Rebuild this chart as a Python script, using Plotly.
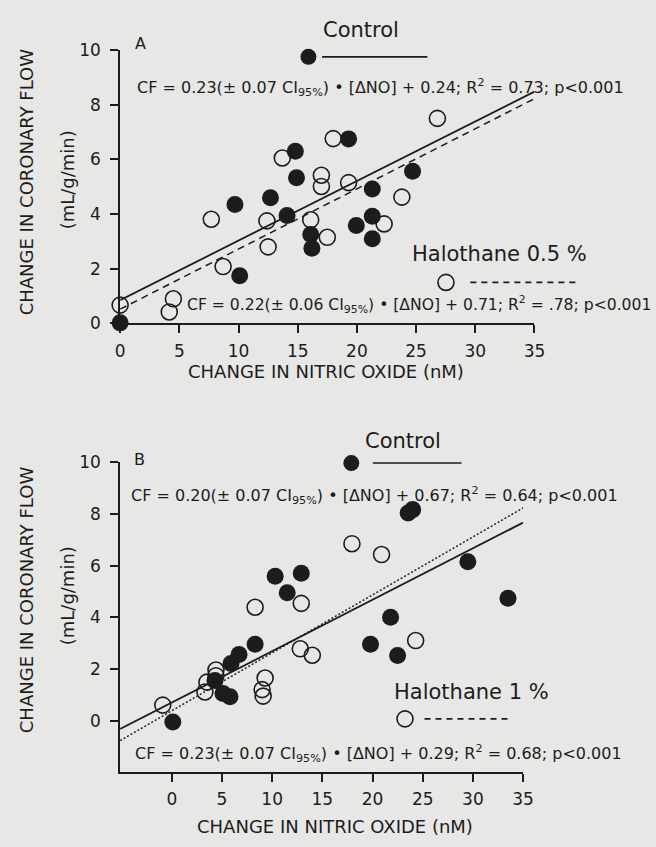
import numpy as np
import plotly.graph_objects as go

W, H = 656, 847
BG = "#e7e7e5"
INK = "#1c1c1c"
FONT = "DejaVu Sans"

# ---------------- data ----------------
# Panel A: Control (filled) vs Halothane 0.5 % (open)
a_ctrl_no = [19.3, 14.8, 14.9, 12.7, 9.7, 14.1, 21.3, 21.3, 19.95, 21.3, 16.1, 16.2, 10.1, 0.0, 24.7]
a_ctrl_cf = [6.75, 6.30, 5.33, 4.60, 4.35, 3.95, 4.92, 3.92, 3.58, 3.10, 3.25, 2.75, 1.74, 0.02, 5.57]
a_halo_no = [18.0, 13.7, 17.0, 17.0, 19.3, 7.7, 12.4, 16.1, 17.5, 12.5, 8.7, 22.3, 4.5, 4.15, 0.0, 26.8, 23.8]
a_halo_cf = [6.76, 6.05, 5.42, 5.01, 5.15, 3.81, 3.75, 3.79, 3.15, 2.80, 2.08, 3.64, 0.90, 0.42, 0.67, 7.50, 4.62]

# Panel B: Control (filled) vs Halothane 1 % (open)
b_ctrl_no = [10.3, 12.9, 11.5, 8.3, 6.7, 5.9, 4.3, 5.1, 5.8, 0.1, 21.8, 19.8, 22.5, 23.55, 24.0, 29.5, 33.5]
b_ctrl_cf = [5.59, 5.71, 4.95, 2.96, 2.56, 2.21, 1.55, 1.05, 0.92, -0.05, 4.00, 2.96, 2.52, 8.04, 8.17, 6.15, 4.74]
b_halo_no = [17.95, 20.9, 8.3, 12.9, 4.4, 4.4, 3.3, 3.5, -0.9, 12.8, 14.0, 9.3, 9.0, 9.1, 24.3]
b_halo_cf = [6.85, 6.43, 4.39, 4.54, 1.96, 1.74, 1.11, 1.49, 0.60, 2.78, 2.53, 1.65, 1.20, 0.95, 3.10]

# regression lines as drawn: (slope, intercept)
a_ctrl_fit = (0.218, 0.85)
a_halo_fit = (0.220, 0.52)
b_ctrl_fit = (0.199, 0.70)
b_halo_fit = (0.2245, 0.38)

a_xrange = [0, 35]
a_yrange = [0, 10]
b_xrange = [-5.15, 35]
b_yrange = [-2, 10]
x_ticks = [0, 5, 10, 15, 20, 25, 30, 35]
y_ticks = [0, 2, 4, 6, 8, 10]

eq_a_ctrl = "CF = 0.23(\u00b1 0.07 CI<sub>95%</sub>) \u2022 [\u0394NO] + 0.24; R<sup>2</sup> = 0.73; p<0.001"
eq_a_halo = "CF = 0.22(\u00b1 0.06 CI<sub>95%</sub>) \u2022 [\u0394NO] + 0.71; R<sup>2</sup> = .78; p<0.001"
eq_b_ctrl = "CF = 0.20(\u00b1 0.07 CI<sub>95%</sub>) \u2022 [\u0394NO] + 0.67; R<sup>2</sup> = 0.64; p<0.001"
eq_b_halo = "CF = 0.23(\u00b1 0.07 CI<sub>95%</sub>) \u2022 [\u0394NO] + 0.29; R<sup>2</sup> = 0.68; p<0.001"

# ---------------- figure ----------------
def px(x):
    return x / W

def py(y):
    return 1 - y / H

fig = go.Figure()

def add_panel(xa, ya, cx, cy, hx, hy, cfit, hfit, xr, hdash):
    fig.add_trace(go.Scatter(
        x=cx, y=cy, mode="markers", xaxis=xa, yaxis=ya, cliponaxis=False,
        marker=dict(symbol="circle", size=17, color=INK, line=dict(width=0)),
        showlegend=False, hoverinfo="skip"))
    fig.add_trace(go.Scatter(
        x=hx, y=hy, mode="markers", xaxis=xa, yaxis=ya, cliponaxis=False,
        marker=dict(symbol="circle-open", size=16, color=INK, line=dict(width=1.6, color=INK)),
        showlegend=False, hoverinfo="skip"))
    lx = np.array(xr, dtype=float)
    fig.add_trace(go.Scatter(
        x=lx, y=cfit[0] * lx + cfit[1], mode="lines", xaxis=xa, yaxis=ya,
        line=dict(color=INK, width=1.8), showlegend=False, hoverinfo="skip"))
    fig.add_trace(go.Scatter(
        x=lx, y=hfit[0] * lx + hfit[1], mode="lines", xaxis=xa, yaxis=ya,
        line=dict(color=INK, width=1.5, dash=hdash), showlegend=False, hoverinfo="skip"))

add_panel("x", "y", a_ctrl_no, a_ctrl_cf, a_halo_no, a_halo_cf, a_ctrl_fit, a_halo_fit, a_xrange, "7px,5px")
add_panel("x2", "y2", b_ctrl_no, b_ctrl_cf, b_halo_no, b_halo_cf, b_ctrl_fit, b_halo_fit, b_xrange, "2px,2px")

axis_common = dict(
    showline=True, linecolor=INK, linewidth=1.6, ticks="outside", ticklen=8,
    tickwidth=1.5, tickcolor=INK, showgrid=False, zeroline=False,
    tickfont=dict(family=FONT, size=17, color=INK), fixedrange=True,
)

fig.update_layout(
    width=W, height=H, autosize=False, paper_bgcolor=BG, plot_bgcolor=BG,
    margin=dict(l=0, r=0, t=0, b=0), showlegend=False,
    xaxis=dict(axis_common, domain=[px(118), px(542.7)], range=a_xrange, tickvals=x_ticks,
               anchor="y", ticklabelstandoff=3),
    yaxis=dict(axis_common, domain=[py(321), py(41)], range=a_yrange, tickvals=y_ticks,
               anchor="x", ticklabelstandoff=6),
    xaxis2=dict(axis_common, domain=[px(118), px(531)], range=b_xrange, tickvals=x_ticks,
                anchor="y2", ticklabelstandoff=3),
    yaxis2=dict(axis_common, domain=[py(780.7), py(463.3)], range=b_yrange, tickvals=y_ticks,
                anchor="x2", ticklabelstandoff=6),
)

def ann(text, x, y, size, xanchor="left", angle=0):
    fig.add_annotation(text=text, x=px(x), y=py(y), xref="paper", yref="paper",
                       xanchor=xanchor, yanchor="middle", showarrow=False, textangle=angle,
                       font=dict(family=FONT, size=size, color=INK))

# Panel A texts
ann("A", 131, 34, 16)
ann("Control", 324, 20, 21)
ann(eq_a_ctrl, 133, 79, 16)
ann("Halothane 0.5 %", 415, 250, 21)
ann(eq_a_halo, 185, 302, 15.6)
ann("CHANGE IN NITRIC OXIDE (nM)", 329, 370, 18, xanchor="center")
ann("CHANGE IN CORONARY FLOW", 22, 176, 18, xanchor="center", angle=-90)
ann("(mL/g/min)", 64, 174, 18, xanchor="center", angle=-90)

# Panel B texts
ann("B", 130, 460, 16)
ann("Control", 367, 441, 21)
ann(eq_b_ctrl, 127, 497, 16)
ann("Halothane 1 %", 397, 699, 21)
ann(eq_b_halo, 131, 761, 16)
ann("CHANGE IN NITRIC OXIDE (nM)", 338, 836, 18, xanchor="center")
ann("CHANGE IN CORONARY FLOW", 22, 604, 18, xanchor="center", angle=-90)
ann("(mL/g/min)", 64, 600, 18, xanchor="center", angle=-90)

# Legend keys (marker + line sample)
def key_circle(cx, cy, filled):
    fig.add_shape(type="circle", xref="paper", yref="paper",
                  xsizemode="pixel", ysizemode="pixel",
                  xanchor=px(cx), yanchor=py(cy),
                  x0=-8, x1=8, y0=-8, y1=8,
                  fillcolor=INK if filled else "rgba(0,0,0,0)",
                  line=dict(color=INK, width=0 if filled else 1.6))

def key_line(x0, x1, y, dash):
    fig.add_shape(type="line", xref="paper", yref="paper",
                  x0=px(x0), x1=px(x1), y0=py(y), y1=py(y),
                  line=dict(color=INK, width=1.6, dash=dash))

key_circle(311, 48, True)
key_line(325, 433, 48, "solid")
key_circle(452, 279, False)
key_line(477, 585, 279, "6px,5px")

key_circle(355, 464, True)
key_line(377, 468, 464, "solid")
key_circle(410, 726, False)
key_line(430, 520, 726, "6px,5px")

fig.write_html(
    "out.html",
    config={"responsive": False, "displayModeBar": False},
    post_script=(
        "document.documentElement.style.margin='0';"
        "document.body.style.margin='0';document.body.style.padding='0';"
        "document.body.style.overflow='hidden';"
        "document.body.style.background='" + BG + "';"
    ),
)
